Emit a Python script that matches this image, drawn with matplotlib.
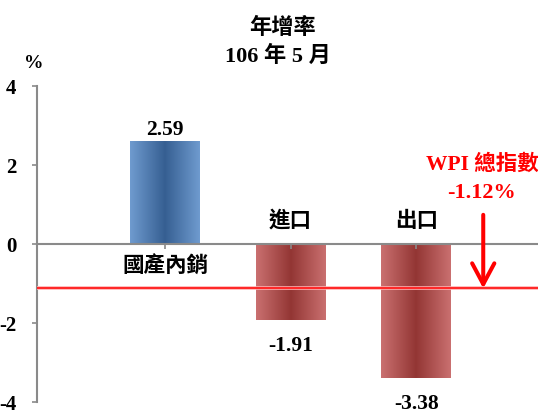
import matplotlib
matplotlib.use('Agg')
import matplotlib.pyplot as plt
import numpy as np
from matplotlib.colors import to_rgb

# ---- data ----
categories = ['國產內銷', '進口', '出口']
values = [2.59, -1.91, -3.38]
wpi_label = 'WPI 總指數'
wpi_value = -1.12
yticks = [-4, -2, 0, 2, 4]
title_top = '年增率'
title_sub = '106 年 5 月'
unit_label = '%'

plt.rcParams['axes.unicode_minus'] = False
serif = ['Liberation Serif', 'Noto Sans CJK TC']
cjk = ['Noto Sans CJK TC', 'Liberation Serif']

W, H = 538, 412
fig = plt.figure(figsize=(W / 100, H / 100), dpi=100)
ax = fig.add_axes([37.3 / W, 1 - 402.3 / H, 1 - 37.3 / W, (402.3 - 86) / H])

x = np.arange(len(categories))
bars = ax.bar(x, values, width=0.555, color='none', edgecolor='none', zorder=1)

n = 256
t = np.linspace(0, 1, n)
w = 1 - np.abs(2 * t - 1)
for bar, v in zip(bars, values):
    if v >= 0:
        e, c = to_rgb('#6f9bcf'), to_rgb('#365f92')
    else:
        e, c = to_rgb('#ca7070'), to_rgb('#933634')
    e = np.array(e); c = np.array(c)
    grad = e[None, :] + (c - e)[None, :] * w[:, None]
    img = grad[None, :, :]
    x0 = bar.get_x(); x1 = x0 + bar.get_width()
    y0 = bar.get_y(); y1 = y0 + bar.get_height()
    ax.imshow(img, extent=(x0, x1, min(y0, y1), max(y0, y1)), aspect='auto',
              interpolation='bilinear', zorder=1)

ax.set_xlim(-1.017, 2.97)
ax.set_ylim(-4, 4)

for s in ['top', 'right']:
    ax.spines[s].set_visible(False)
ax.spines['left'].set_color('#8a8a8a')
ax.spines['left'].set_linewidth(1.5)
ax.spines['bottom'].set_position(('data', 0))
ax.spines['bottom'].set_color('#8a8a8a')
ax.spines['bottom'].set_linewidth(1.5)

ax.set_yticks(yticks)
ax.set_yticklabels([str(v) for v in yticks], family=serif, fontweight='bold', fontsize=15)
ax.tick_params(axis='y', direction='out', length=3.6, width=1.2, color='#8a8a8a', pad=11.5)
ax.set_xticks(x)
ax.set_xticklabels([])
ax.tick_params(axis='x', direction='out', length=3.6, width=1.2, color='#8a8a8a')

# WPI line
ax.axhline(wpi_value, color='#ffb0b0', lw=2.6, zorder=3)
ax.axhline(wpi_value, color='#ff0000', lw=1.1, zorder=3.1)

# value labels and category labels
for xi, v, cat in zip(x, values, categories):
    ax.annotate(f'{v:.2f}', (xi, v), xytext=(0, 8.6 if v > 0 else -19),
                textcoords='offset points', ha='center', va='center',
                fontsize=15.5, fontweight='bold', family=serif)
    ax.annotate(cat, (xi, 0), xytext=(0, -15.5 if v > 0 else 17),
                textcoords='offset points', ha='center', va='center',
                fontsize=15.5, fontweight='bold', family=cjk)

# arrow
ax.annotate('', xy=(2.534, wpi_value), xytext=(0, 53), textcoords='offset points',
            arrowprops=dict(arrowstyle='->,head_length=0.75,head_width=0.4',
                            color='#ff0000', lw=2.9, mutation_scale=20,
                            shrinkA=0, shrinkB=0), zorder=4)

fig.text(482 / W, 1 - 165 / H, wpi_label, ha='center', va='center', color='#ff0000',
         family=serif, fontweight='bold', fontsize=15.5)
fig.text(481 / W, 1 - 193 / H, f'{wpi_value:.2f}%', ha='center', va='center', color='#ff0000',
         family=serif, fontweight='bold', fontsize=16)

fig.text(282.5 / W, 1 - 27 / H, title_top, ha='center', va='center',
         family=cjk, fontweight='bold', fontsize=16)
fig.text(277.5 / W, 1 - 56 / H, title_sub, ha='center', va='center',
         family=serif, fontweight='bold', fontsize=16)
fig.text(34 / W, 1 - 64 / H, unit_label, ha='center', va='center',
         family=serif, fontweight='bold', fontsize=14)

fig.savefig('out.png', dpi=100)
